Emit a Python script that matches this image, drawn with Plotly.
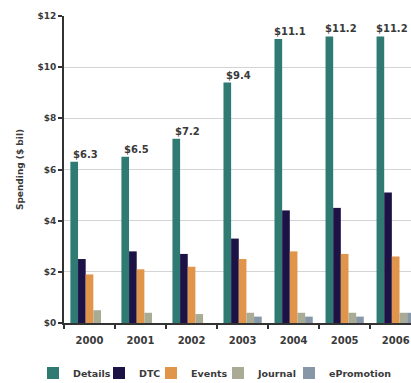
import plotly.graph_objects as go

# Promotional spending by channel, $ billions
years = ["2000", "2001", "2002", "2003", "2004", "2005", "2006"]
details = [6.3, 6.5, 7.2, 9.4, 11.1, 11.2, 11.2]
dtc = [2.5, 2.8, 2.7, 3.3, 4.4, 4.5, 5.1]
events = [1.9, 2.1, 2.2, 2.5, 2.8, 2.7, 2.6]
journal = [0.5, 0.4, 0.35, 0.4, 0.4, 0.4, 0.4]
epromotion = [0.0, 0.0, 0.0, 0.25, 0.25, 0.25, 0.4]

y_ticks = [0, 2, 4, 6, 8, 10, 12]
y_tick_labels = ["$0", "$2", "$4", "$6", "$8", "$10", "$12"]

series = [
    ("Details", details, "#2f7b74"),
    ("DTC", dtc, "#1d1245"),
    ("Events", events, "#e0954a"),
    ("Journal", journal, "#a9ab94"),
    ("ePromotion", epromotion, "#8797a8"),
]

# left edge (px) of each single-entry legend in the bottom row
legend_left_px = [33, 99, 151, 218, 289]

FONT = "DejaVu Sans"
TXT = "#3a3a3a"
W, H = 411, 383

fig = go.Figure()
legend_layouts = {}
for k, ((name, vals, color), lx) in enumerate(zip(series, legend_left_px)):
    lid = "legend" if k == 0 else f"legend{k + 1}"
    fig.add_trace(go.Bar(x=years, y=vals, name=name, marker_color=color,
                         marker_line_width=0, legend=lid))
    legend_layouts[lid] = dict(
        orientation="h", xref="container", yref="container",
        x=lx / W, y=(H - 373) / H, xanchor="left", yanchor="middle",
        bgcolor="rgba(0,0,0,0)", borderwidth=0,
        font=dict(family=FONT, size=9.5, color=TXT, weight="bold"),
        itemwidth=30,
    )

# value labels above the Details bars (x given as category index)
for i, v in enumerate(details):
    fig.add_annotation(x=i, y=v, xref="x", yref="y", text=f"${v:.1f}",
                       showarrow=False, xanchor="center", yanchor="bottom",
                       xshift=-4, yshift=0,
                       font=dict(family=FONT, size=10, color=TXT, weight="bold"))

fig.update_layout(
    width=W, height=H,
    margin=dict(l=64, r=0, t=16, b=60),
    paper_bgcolor="white", plot_bgcolor="white",
    barmode="group", bargap=0.25, bargroupgap=0,
    font=dict(family=FONT, size=10, color=TXT),
    showlegend=True,
    **legend_layouts,
)
fig.update_xaxes(type="category", range=[-0.5, 6.3],
                 showline=True, linecolor="#333333", linewidth=2,
                 ticks="outside", tickson="boundaries", ticklen=4,
                 tickcolor="#333333", tickwidth=2, ticklabelstandoff=7,
                 tickfont=dict(family=FONT, size=10, color=TXT, weight="bold"),
                 showgrid=False)
fig.update_yaxes(range=[0, 12], tickvals=y_ticks, ticktext=y_tick_labels,
                 showline=True, linecolor="#333333", linewidth=2,
                 ticks="outside", ticklen=4, tickcolor="#333333", tickwidth=2,
                 showgrid=True, gridcolor="#d4d4d4", gridwidth=1,
                 zeroline=False,
                 tickfont=dict(family=FONT, size=9, color=TXT, weight="bold"),
                 title=dict(text="Spending ($ bil)", standoff=12,
                            font=dict(family=FONT, size=9, color=TXT, weight="bold")))

fig.write_html("out.html")
